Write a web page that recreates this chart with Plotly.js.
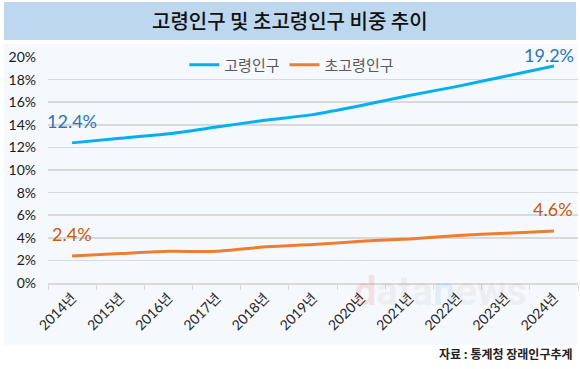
<!DOCTYPE html>
<html>
<head>
<meta charset="utf-8">
<script src="https://cdn.plot.ly/plotly-3.0.1.min.js"></script>
<style>html,body{margin:0;padding:0;background:#fff;}#chart{width:580px;height:369px;}</style>
</head>
<body>
<div id="chart"></div>
<script>
const years = ['2014년','2015년','2016년','2017년','2018년','2019년','2020년','2021년','2022년','2023년','2024년'];
const elderly = [12.4, 12.8, 13.2, 13.8, 14.4, 14.9, 15.7, 16.6, 17.4, 18.3, 19.2];
const superElderly = [2.4, 2.6, 2.8, 2.8, 3.2, 3.4, 3.7, 3.9, 4.2, 4.4, 4.6];
const seriesNames = ['고령인구', '초고령인구'];
const yTickVals = [0, 2, 4, 6, 8, 10, 12, 14, 16, 18, 20];
const yTickText = ['0%','2%','4%','6%','8%','10%','12%','14%','16%','18%','20%'];
const titleText = '고령인구 및 초고령인구 비중 추이';
const sourceText = '자료 : 통계청 장래인구추계';

const numFont = 'Lato, "Noto Sans CJK KR", sans-serif';
const krFont = '"Noto Sans CJK KR", "Noto Sans", sans-serif';

const traces = [
  {x: years, y: elderly, name: seriesNames[0], type: 'scatter', mode: 'lines',
   line: {color: '#00B0F0', width: 3, shape: 'spline', smoothing: 0.6}},
  {x: years, y: superElderly, name: seriesNames[1], type: 'scatter', mode: 'lines',
   line: {color: '#ED7D31', width: 3, shape: 'spline', smoothing: 0.6}}
];

const last = years.length - 1;
function fmt(v){ return v.toFixed(1) + '%'; }
const annotations = [
  {x: years[0], y: elderly[0], text: fmt(elderly[0]), showarrow: false, yshift: 22, xshift: 0,
   font: {family: numFont, size: 18, color: '#2E75B6'}},
  {x: years[last], y: elderly[last], text: fmt(elderly[last]), showarrow: false, yshift: 11, xshift: -5,
   font: {family: numFont, size: 18, color: '#2E75B6'}},
  {x: years[0], y: superElderly[0], text: fmt(superElderly[0]), showarrow: false, yshift: 22, xshift: 0,
   font: {family: numFont, size: 18, color: '#C55A11'}},
  {x: years[last], y: superElderly[last], text: fmt(superElderly[last]), showarrow: false, yshift: 22, xshift: -1,
   font: {family: numFont, size: 18, color: '#C55A11'}},
  {xref: 'paper', yref: 'paper', x: (290-48)/530, y: 1.0, xanchor: 'center', yanchor: 'middle',
   yshift: 37, text: titleText, showarrow: false,
   font: {family: krFont, size: 20, color: '#111111', weight: 500}},
  {xref: 'paper', yref: 'paper', x: 1, y: 0, xanchor: 'right', yanchor: 'middle',
   xshift: -3, yshift: -70, text: '<b>' + sourceText + '</b>', showarrow: false,
   font: {family: krFont, size: 12, color: '#222222'}},
  {xref: 'paper', yref: 'paper', x: (440-48)/530, y: 0, xanchor: 'center', yanchor: 'middle',
   yshift: -8, text: '<span style="color:rgba(230,60,60,0.13)">d</span><span style="color:rgba(150,150,150,0.10)">ata</span><span style="color:rgba(80,160,230,0.13)">n</span><span style="color:rgba(150,150,150,0.10)">ews</span>',
   showarrow: false, font: {family: 'Roboto, sans-serif', size: 40, weight: 700}}
];

const shapes = [
  {type: 'rect', xref: 'paper', yref: 'paper', layer: 'below',
   x0: (4-48)/530, x1: (576-48)/530, y0: (283-40)/226, y1: (283-2)/226,
   fillcolor: '#BDD7EE', line: {width: 0}},
  {type: 'rect', xref: 'paper', yref: 'paper', layer: 'below',
   x0: (4-48)/530, x1: (577-48)/530, y0: (283-345)/226, y1: (283-44)/226,
   fillcolor: '#F5F8FC', line: {width: 0}}
];

const layout = {
  width: 580, height: 369,
  margin: {l: 48, r: 2, t: 57, b: 86},
  paper_bgcolor: '#FFFFFF',
  plot_bgcolor: 'rgba(0,0,0,0)',
  showlegend: true,
  legend: {orientation: 'h', x: 0.46, xanchor: 'center', y: 0.965, yanchor: 'middle',
           bgcolor: 'rgba(0,0,0,0)', font: {family: krFont, size: 15, color: '#595959'},
           itemwidth: 30, tracegroupgap: 0},
  xaxis: {type: 'category', range: [-0.5, 10.5], tickson: 'boundaries',
          showgrid: false, showline: true, linecolor: '#D9D9D9', linewidth: 1.5,
          ticks: 'outside', ticklen: 5, tickcolor: '#D9D9D9', tickwidth: 1,
          tickangle: -45, tickfont: {family: numFont, size: 14, color: '#262626'},
          zeroline: false, fixedrange: true},
  yaxis: {range: [0, 20], tickvals: yTickVals, ticktext: yTickText,
          showgrid: true, gridcolor: '#D9D9D9', gridwidth: 1.5,
          zeroline: false, showline: false, ticks: '',
          ticklabelstandoff: 11,
          tickfont: {family: numFont, size: 14, color: '#1a1a1a'}, fixedrange: true},
  annotations: annotations,
  shapes: shapes
};

Plotly.newPlot('chart', traces, layout, {staticPlot: true, displayModeBar: false});
</script>
</body>
</html>
